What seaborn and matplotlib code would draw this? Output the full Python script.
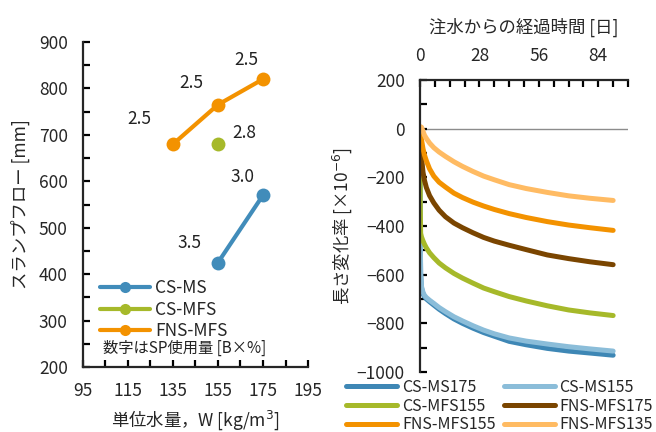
import numpy as np
import pandas as pd
import matplotlib
matplotlib.use("Agg")
import matplotlib.pyplot as plt
from matplotlib.ticker import MultipleLocator, FixedLocator
import seaborn as sns

sns.set_style("ticks")
plt.rcParams['font.family'] = ['Noto Sans CJK JP', 'DejaVu Sans']
plt.rcParams['mathtext.fontset'] = 'dejavusans'

# ---- slump flow vs unit water content ----
flow_series = ["CS-MS", "CS-MS", "CS-MFS", "FNS-MFS", "FNS-MFS", "FNS-MFS"]
flow_water = [155, 175, 155, 135, 155, 175]
flow_value = [425, 570, 680, 680, 765, 820]
sp_dosage = ["3.5", "3.0", "2.8", "2.5", "2.5", "2.5"]
sp_label_x = [142.5, 166, 166.5, 120, 143, 167.5]
sp_label_y = [467, 609, 704, 734, 812, 861]
flow_order = ["CS-MS", "CS-MFS", "FNS-MFS"]
flow_colors = ["#418cba", "#a6b92a", "#f39200"]

# ---- length change vs elapsed days ----
days = [0, 0.1, 0.3, 0.7, 1.4, 2.1, 3, 4.5, 6.5, 9, 12, 16, 20, 25, 30, 35, 42, 50, 60, 70, 80, 91]
cs_ms175 = [0, -420, -600, -655, -678, -690, -700, -711, -725, -742, -760, -782, -800,
            -820, -838, -853, -874, -888, -903, -914, -922, -931]
cs_ms155 = [0, -400, -590, -648, -672, -685, -694, -705, -718, -735, -752, -773, -790,
            -810, -828, -843, -860, -873, -885, -896, -905, -914]
cs_mfs155 = [0, -300, -430, -445, -461, -475, -490, -510, -530, -552, -572, -595, -614,
             -635, -655, -670, -690, -708, -728, -745, -757, -768]
fns_mfs175 = [0, -25, -60, -115, -178, -212, -242, -275, -305, -335, -362, -388, -407,
              -428, -447, -462, -479, -497, -519, -534, -547, -559]
fns_mfs155 = [0, -8, -20, -45, -82, -108, -132, -165, -195, -220, -240, -265, -283,
              -302, -318, -332, -349, -365, -382, -396, -407, -418]
fns_mfs135 = [0, 5, 8, 6, -10, -27, -40, -59, -78, -96, -114, -136, -155,
              -176, -195, -210, -230, -246, -262, -276, -286, -295]
mix_names = ["CS-MS175", "CS-MS155", "CS-MFS155", "FNS-MFS175", "FNS-MFS155", "FNS-MFS135"]
mix_colors = ["#3e87b5", "#8bbdd9", "#a6b92a", "#7a4500", "#f39200", "#ffbb63"]
mix_values = [cs_ms175, cs_ms155, cs_mfs155, fns_mfs175, fns_mfs155, fns_mfs135]

W, H = 656, 432
fig = plt.figure(figsize=(W / 100, H / 100), dpi=100)

def box(l, t, r, b):
    return [l / W, 1 - b / H, (r - l) / W, (b - t) / H]

FS = 12.5
tick_kw = dict(direction="in", length=5, width=1.6, labelsize=FS, pad=11, color="black")

# left panel
ax1 = fig.add_axes(box(83, 42, 308, 367))
df_flow = pd.DataFrame({"series": flow_series, "W": flow_water, "flow": flow_value})
sns.lineplot(data=df_flow, x="W", y="flow", hue="series", hue_order=flow_order,
             palette=flow_colors, marker="o", markersize=10, markeredgewidth=0,
             linewidth=3, ax=ax1, legend=False)
for tx, ty, s in zip(sp_label_x, sp_label_y, sp_dosage):
    ax1.text(tx, ty, s, ha="center", va="center", fontsize=FS, color="#222222")
ax1.set_xlim(95, 195)
ax1.set_ylim(200, 900)
ax1.xaxis.set_major_locator(FixedLocator(np.arange(95, 196, 20)))
ax1.xaxis.set_minor_locator(FixedLocator(np.arange(105, 195, 20)))
ax1.yaxis.set_major_locator(MultipleLocator(100))
ax1.yaxis.set_minor_locator(MultipleLocator(50))
ax1.tick_params(which="both", **tick_kw)
for side in ["top", "right"]:
    ax1.spines[side].set_visible(False)
for side in ["left", "bottom"]:
    ax1.spines[side].set_linewidth(1.6)
ax1.set_xlabel("単位水量，W [kg/m$^3$]", fontsize=FS, labelpad=6)
ax1.set_ylabel("スランプフロー [mm]", fontsize=FS, labelpad=6)

handles = [plt.Line2D([], [], color=c, lw=3, marker="o", markersize=8, markeredgewidth=0)
           for c in flow_colors]
ax1.legend(handles, flow_order, loc="upper left", bbox_to_anchor=(0.075, 0.27),
           frameon=False, fontsize=FS, handlelength=2.9, handletextpad=0.3,
           labelspacing=0.2, borderpad=0, borderaxespad=0)
ax1.text(0.09, 0.058, "数字はSP使用量 [B×%]", transform=ax1.transAxes,
         fontsize=FS - 1.5, ha="left", va="center", color="#222222")

# right panel
ax2 = fig.add_axes(box(420, 80, 628, 372))
rows = []
for name, vals in zip(mix_names, mix_values):
    for d, v in zip(days, vals):
        rows.append((name, d, v))
df_len = pd.DataFrame(rows, columns=["mix", "day", "strain"])
ax2.axhline(0, color="#8c8c8c", lw=1, zorder=0)
sns.lineplot(data=df_len, x="day", y="strain", hue="mix", hue_order=mix_names,
             palette=mix_colors, linewidth=3.6, ax=ax2, legend=False)
for ln in ax2.get_lines():
    ln.set_solid_capstyle("round")
    ln.set_solid_joinstyle("round")
ax2.set_xlim(0, 98)
ax2.set_ylim(-1000, 200)
ax2.xaxis.tick_top()
ax2.xaxis.set_label_position("top")
ax2.xaxis.set_major_locator(MultipleLocator(28))
ax2.xaxis.set_minor_locator(MultipleLocator(7))
ax2.yaxis.set_major_locator(MultipleLocator(200))
ax2.yaxis.set_minor_locator(MultipleLocator(100))
ax2.tick_params(which="both", **tick_kw)
for side in ["bottom", "right"]:
    ax2.spines[side].set_visible(False)
for side in ["left", "top"]:
    ax2.spines[side].set_linewidth(1.6)
ax2.set_xlabel("注水からの経過時間 [日]", fontsize=FS, labelpad=10)
ax2.set_ylabel("長さ変化率 [×10$^{-6}$]", fontsize=FS, labelpad=2)

# two-column legend filled row by row
order = [0, 2, 4, 1, 3, 5]
lh = [plt.Line2D([], [], color=mix_colors[i], lw=3.6, solid_capstyle="round") for i in order]
fig.legend(lh, [mix_names[i] for i in order], loc="upper left",
           bbox_to_anchor=(346 / W, 1 - 379 / H),
           ncol=2, frameon=False, fontsize=11.5, handlelength=3.2, handletextpad=0.3,
           labelspacing=0.1, columnspacing=0.5, borderpad=0, borderaxespad=0)

fig.savefig("out.png", dpi=100)
